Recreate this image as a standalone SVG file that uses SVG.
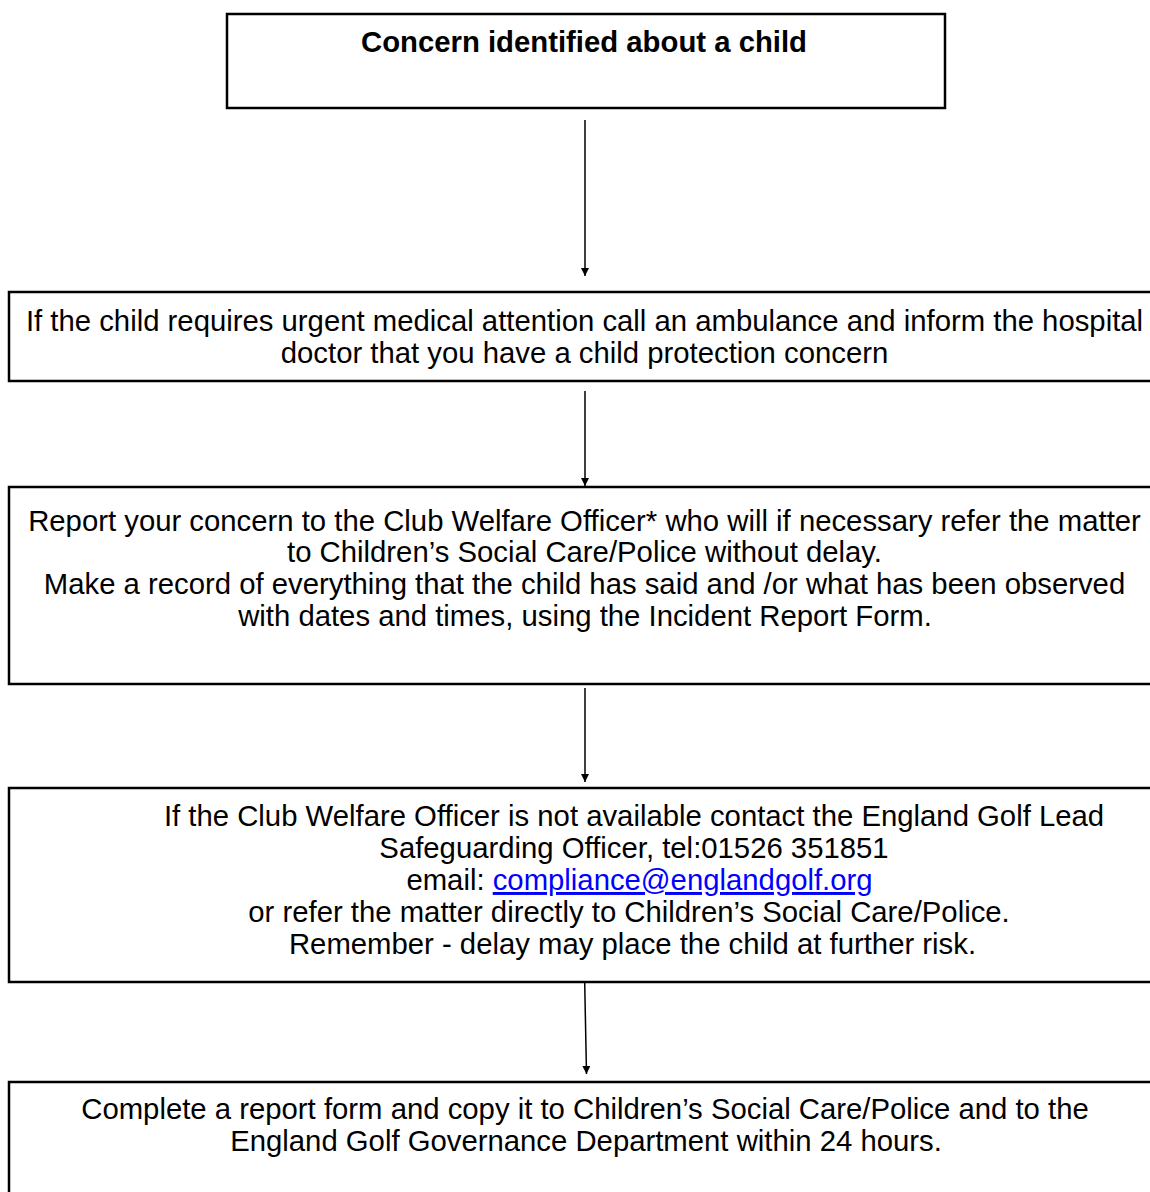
<svg xmlns="http://www.w3.org/2000/svg" width="1150" height="1192" viewBox="0 0 1150 1192">
<style>
.box{fill:#fff;stroke:#000;stroke-width:2.5}
.t{font-family:"Liberation Sans",Arial,sans-serif;font-size:29.3px;fill:#000;text-anchor:middle}
.b{font-weight:bold}
.link{fill:#0000ff;text-decoration:underline}
.c{stroke:#000;stroke-width:1.5;fill:none;marker-end:url(#ah)}
</style>
<defs>
<marker id="ah" viewBox="0 0 10 10" refX="10" refY="5" markerWidth="9" markerHeight="8" markerUnits="userSpaceOnUse" orient="auto">
<path d="M0,0 L10,5 L0,10 z" fill="#000"/>
</marker>
</defs>
<rect width="1150" height="1192" fill="#fff"/>
<g id="connectors">
<line class="c" x1="585" y1="120" x2="585" y2="276"/>
<line class="c" x1="585" y1="391" x2="585" y2="486"/>
<line class="c" x1="585" y1="688" x2="585" y2="782"/>
<line class="c" x1="584.5" y1="972" x2="586.5" y2="1074"/>
</g>
<g id="node1">
<rect class="box" x="227" y="14" width="718" height="94"/>
<text class="t b" x="584" y="52">Concern identified about a child</text>
</g>
<g id="node2">
<rect class="box" x="9" y="292" width="1160" height="89"/>
<text class="t" x="584.5" y="331">If the child requires urgent medical attention call an ambulance and inform the hospital</text>
<text class="t" x="584.5" y="363">doctor that you have a child protection concern</text>
</g>
<g id="node3">
<rect class="box" x="9" y="487" width="1160" height="197"/>
<text class="t" x="584.5" y="531">Report your concern to the Club Welfare Officer* who will if necessary refer the matter</text>
<text class="t" x="584.5" y="562">to Children’s Social Care/Police without delay.</text>
<text class="t" x="584.5" y="594">Make a record of everything that the child has said and /or what has been observed</text>
<text class="t" x="585" y="626">with dates and times, using the Incident Report Form.</text>
</g>
<g id="node4">
<rect class="box" x="9" y="788" width="1160" height="194"/>
<text class="t" x="634" y="826">If the Club Welfare Officer is not available contact the England Golf Lead</text>
<text class="t" x="634" y="858">Safeguarding Officer, tel:01526 351851</text>
<text class="t" x="639.5" y="890">email: <tspan class="link">compliance@englandgolf.org</tspan></text>
<text class="t" x="629" y="922">or refer the matter directly to Children’s Social Care/Police.</text>
<text class="t" x="632.5" y="954">Remember - delay may place the child at further risk.</text>
</g>
<g id="node5">
<rect class="box" x="9" y="1082" width="1160" height="140"/>
<text class="t" x="585" y="1119">Complete a report form and copy it to Children’s Social Care/Police and to the</text>
<text class="t" x="586" y="1151">England Golf Governance Department within 24 hours.</text>
</g>
</svg>
